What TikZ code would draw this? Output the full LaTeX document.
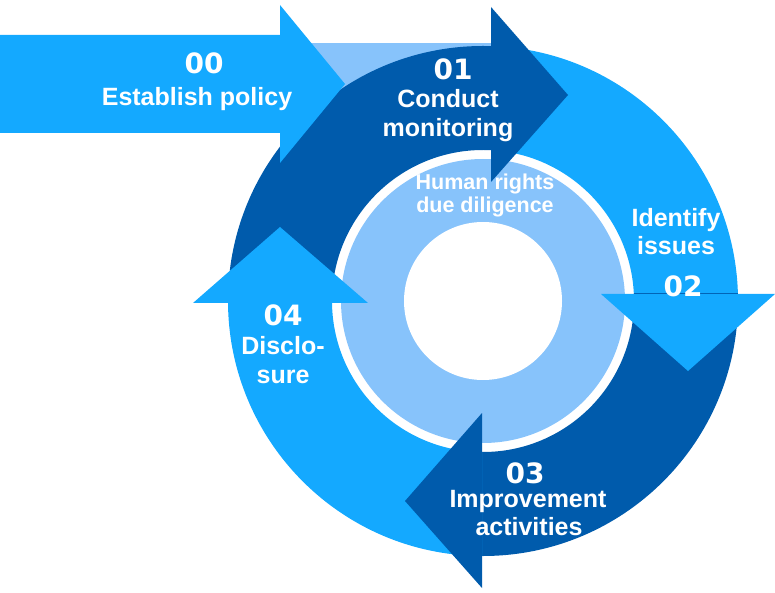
\documentclass[tikz,border=0pt]{standalone}
\usepackage{fontspec}
\setmainfont{Liberation Sans}
\newfontfamily\numfont{DejaVu Sans}
\definecolor{bright}{HTML}{14A9FF}
\definecolor{deep}{HTML}{005BAC}
\definecolor{pale}{HTML}{87C3FB}
\begin{document}
\begin{tikzpicture}[x=1pt,y=1pt,
  lbl/.style={text=white,font=\bfseries\fontsize{25}{28}\selectfont,anchor=base,inner sep=0pt},
  num/.style={text=white,font=\numfont\bfseries\fontsize{28}{30}\selectfont,anchor=base,inner sep=0pt},
  core/.style={text=white,font=\bfseries\fontsize{21.5}{24}\selectfont,anchor=base,inner sep=0pt},
  ringpart/.style={even odd rule}]
\useasboundingbox (0,0) rectangle (775,592);
\coordinate (C) at (483,291);
% pale band behind the top of the ring
\fill[pale] (290,472) rectangle (491,549);
% ring segments
\begin{scope}
  \clip (0,289) rectangle (491,592);
  \fill[deep,ringpart] (C) circle[radius=255] (C) circle[radius=151];
\end{scope}
\begin{scope}
  \clip (491,298) rectangle (775,592);
  \fill[bright,ringpart] (C) circle[radius=255] (C) circle[radius=151];
\end{scope}
\begin{scope}
  \clip (482,0) rectangle (775,298);
  \fill[deep,ringpart] (C) circle[radius=255] (C) circle[radius=151];
\end{scope}
\begin{scope}
  \clip (0,0) rectangle (482,289);
  \fill[bright,ringpart] (C) circle[radius=255] (C) circle[radius=151];
\end{scope}
% inner disc
\fill[pale] (C) circle[radius=142];
\fill[white] (C) circle[radius=79];
% arrowheads
\fill[deep] (491,585) -- (568,497) -- (491,410) -- cycle;
\fill[bright] (601,298) -- (775,298) -- (688,221) -- cycle;
\fill[deep] (482,179) -- (482,4) -- (405,91) -- cycle;
\fill[bright] (193,289) -- (368,289) -- (280,365) -- cycle;
% arrow 00
\fill[bright] (0,557) -- (280,557) -- (280,587) -- (345,508) -- (280,429) -- (280,459) -- (0,459) -- cycle;
% texts
\node[num] (n00) at (204,518) {00};
\node[lbl] (t00) at (197,486) {Establish policy};
\node[num] (n01) at (453,512) {01};
\node[lbl] (t01a) at (448,484) {Conduct};
\node[lbl] (t01b) at (448,455) {monitoring};
\node[core] (hr1) at (485,402) {Human rights};
\node[core] (hr2) at (485,379) {due diligence};
\node[lbl] (t02a) at (676,365) {Identify};
\node[lbl] (t02b) at (676,337) {issues};
\node[num] (n02) at (683,295) {02};
\node[num] (n03) at (525,109) {03};
\node[lbl] (t03a) at (528,85) {Improvement};
\node[lbl] (t03b) at (529,57) {activities};
\node[num] (n04) at (283,267) {04};
\node[lbl] (t04a) at (283,238) {Disclo-};
\node[lbl] (t04b) at (283,209) {sure};
\end{tikzpicture}
\end{document}
